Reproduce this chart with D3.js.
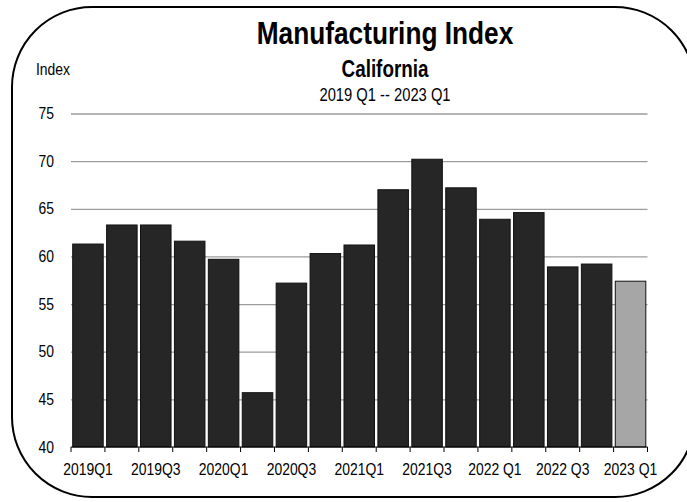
<!DOCTYPE html>
<html>
<head>
<meta charset="utf-8">
<script src="https://cdn.jsdelivr.net/npm/d3@7/dist/d3.min.js"></script>
<style>
  html, body { margin: 0; padding: 0; background: #ffffff; }
  svg { display: block; }
  text { font-family: "Liberation Sans", Arial, Helvetica, sans-serif; fill: #000; }
</style>
</head>
<body>
<svg id="chart" width="687" height="502"></svg>
<script>
// Quarterly manufacturing index, California
const quarters = [
  "2019Q1", "2019Q2", "2019Q3", "2019Q4",
  "2020Q1", "2020Q2", "2020Q3", "2020Q4",
  "2021Q1", "2021Q2", "2021Q3", "2021Q4",
  "2022 Q1", "2022 Q2", "2022 Q3", "2022 Q4",
  "2023 Q1"
];
const indexValues = [
  61.3, 63.3, 63.3, 61.6,
  59.7, 45.7, 57.2, 60.3,
  61.2, 67.0, 70.2, 67.2,
  63.9, 64.6, 58.9, 59.2,
  57.4
];
const yTickValues = [40, 45, 50, 55, 60, 65, 70, 75];
const xTickLabels = ["2019Q1", "2019Q3", "2020Q1", "2020Q3", "2021Q1", "2021Q3", "2022 Q1", "2022 Q3", "2023 Q1"];
const latestQuarter = "2023 Q1";

const titleText = "Manufacturing Index";
const subtitleText = "California";
const periodText = "2019 Q1 -- 2023 Q1";
const yAxisTitle = "Index";

// condensed look: horizontal squeeze applied to every label
const NARROW = 0.82;

const svg = d3.select("#chart");

// rounded frame (right side runs past the edge of the canvas)
svg.append("rect")
  .attr("x", 12).attr("y", 7)
  .attr("width", 683).attr("height", 490)
  .attr("rx", 80).attr("ry", 80)
  .attr("fill", "none")
  .attr("stroke", "#000")
  .attr("stroke-width", 2);

const plot = { left: 71, right: 647.5, top: 113.5, bottom: 447 };

const x = d3.scaleBand()
  .domain(quarters)
  .range([plot.left, plot.right])
  .paddingInner(0.1)
  .paddingOuter(0.05);

const y = d3.scaleLinear()
  .domain([40, 75])
  .range([plot.bottom, plot.top]);

function narrowText(sel, dx, dy) {
  sel.each(function () {
    const t = d3.select(this);
    t.attr("x", null).attr("y", null).attr("dy", null)
      .attr("transform", `translate(${dx},${dy}) scale(${NARROW},1)`);
  });
}

// gridlines and y labels
const yAxisG = svg.append("g")
  .attr("transform", `translate(${plot.left},0)`)
  .call(d3.axisLeft(y).tickValues(yTickValues).tickSize(-(plot.right - plot.left)).tickFormat(d3.format("d")));
yAxisG.select(".domain").remove();
yAxisG.selectAll(".tick line")
  .attr("stroke", "#9c9c9c")
  .attr("stroke-width", 1.3)
  .filter(d => d === 40).remove();
yAxisG.selectAll(".tick text")
  .attr("font-size", 17)
  .attr("text-anchor", "end")
  .call(narrowText, -17, 5);

// bars
svg.append("g")
  .selectAll("rect")
  .data(quarters.map((q, i) => ({ q, v: indexValues[i] })))
  .join("rect")
  .attr("x", d => x(d.q))
  .attr("y", d => y(d.v))
  .attr("width", x.bandwidth())
  .attr("height", d => y(40) - y(d.v))
  .attr("fill", d => d.q === latestQuarter ? "#a6a6a6" : "#262626")
  .attr("stroke", "#111")
  .attr("stroke-width", 1);

// x axis: baseline, boundary ticks, and labels on alternate quarters
const xAxisG = svg.append("g")
  .attr("transform", `translate(0,${plot.bottom})`)
  .call(d3.axisBottom(x).tickValues(xTickLabels).tickSize(0));
xAxisG.select(".domain")
  .attr("stroke", "#000")
  .attr("stroke-width", 1.2)
  .attr("d", `M${plot.left},0H${plot.right}`);
xAxisG.selectAll(".tick text")
  .attr("font-size", 17)
  .attr("text-anchor", "middle")
  .call(narrowText, 0, 28);

const step = x.step();
const boundaries = d3.range(quarters.length + 1).map(i => plot.left + i * step);
xAxisG.append("g")
  .selectAll("line")
  .data(boundaries)
  .join("line")
  .attr("x1", d => d).attr("x2", d => d)
  .attr("y1", 0).attr("y2", 5)
  .attr("stroke", "#000")
  .attr("stroke-width", 1);

// titles
const cx = 385;
svg.append("text")
  .attr("font-size", 32).attr("font-weight", "bold")
  .attr("text-anchor", "middle")
  .attr("transform", `translate(${cx},44) scale(${NARROW},1)`)
  .text(titleText);
svg.append("text")
  .attr("font-size", 23).attr("font-weight", "bold")
  .attr("text-anchor", "middle")
  .attr("transform", `translate(${cx},77) scale(${NARROW},1)`)
  .text(subtitleText);
svg.append("text")
  .attr("font-size", 18)
  .attr("text-anchor", "middle")
  .attr("transform", `translate(${cx},101) scale(${NARROW},1)`)
  .text(periodText);
svg.append("text")
  .attr("font-size", 17)
  .attr("text-anchor", "start")
  .attr("transform", `translate(36,75) scale(${NARROW},1)`)
  .text(yAxisTitle);
</script>
</body>
</html>
